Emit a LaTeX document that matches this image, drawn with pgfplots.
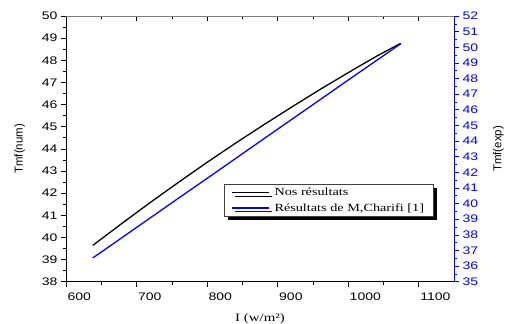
\documentclass[border=0pt]{standalone}
\usepackage{fontspec}
\setmainfont{Liberation Sans}
\newfontfamily\tickfont{Liberation Sans}[FakeStretch=1.28]
\newfontfamily\timesfont{Liberation Serif}[FakeStretch=1.3]
\usepackage{pgfplots}
\pgfplotsset{compat=1.18}
\usetikzlibrary{shadows}

% Tmf computed vs irradiance
\pgfplotstableread{
I     T
638   39.64
680   40.65
720   41.59
760   42.50
800   43.39
840   44.25
880   45.08
920   45.89
960   46.68
1000  47.44
1040  48.18
1074  48.76
}\numdata

% Tmf measured (M. Charifi) vs irradiance
\pgfplotstableread{
I     T
638   36.52
700   38.47
760   40.36
800   41.61
860   43.50
900   44.76
960   46.64
1000   47.90
1040   49.15
1075   50.24
}\expdata

\begin{document}
\begin{tikzpicture}
% fixed page frame around the 388 x 265.7 plot area
\useasboundingbox (-66bp,-42.3bp) rectangle (440bp,281.7bp);
\pgfplotsset{
  common/.style={
    at={(0,0)}, anchor=south west,
    scale only axis, width=388bp, height=265.7bp,
    xmin=600, xmax=1150,
    /pgf/number format/assume math mode=true,
    /pgf/number format/1000 sep={},
    ticklabel style={font=\tickfont\fontsize{11}{13}\selectfont},
    label style={font=\fontsize{11.5}{13}\selectfont},
    major tick length=5bp, minor tick length=3bp,
    every tick/.style={line width=0.6pt},
    xtick={600,700,...,1100}, minor x tick num=1,
  }
}
% left axis and bottom axis
\begin{axis}[common,
  ymin=38, ymax=50,
  axis x line*=bottom, axis y line*=left,
  tick align=outside,
  axis line style={line width=0.8pt},
  ytick={38,39,...,50}, minor y tick num=1,
  xticklabel style={anchor=north west, xshift=-2bp, yshift=-3bp},
  xlabel={\timesfont I (w/m²)},
  ylabel={Tmf(num)},
  xlabel style={yshift=-6bp},
  ylabel style={yshift=10bp},
]
\addplot[black, line width=1.3pt] table[x=I, y=T] {\numdata};
\end{axis}
% top frame line with inner ticks
\begin{axis}[common,
  ymin=38, ymax=50,
  axis x line*=top, axis y line=none,
  tick align=inside,
  xticklabels={},
  axis line style={gray, line width=0.8pt},
]
\end{axis}
% right axis (experimental values)
\begin{axis}[common,
  ymin=35, ymax=52,
  axis x line=none, axis y line*=right,
  tick align=outside,
  y axis line style={blue, line width=0.8pt},
  ytick={35,36,...,52}, minor y tick num=1,
  y tick style={blue},
  yticklabel style={blue},
  ylabel={Tmf(exp)},
  ylabel style={yshift=-8bp},
  legend cell align=left,
  legend image code/.code={\draw[#1] (0bp,0bp) -- (37bp,0bp);},
  legend style={at={(0.407,0.368)}, anchor=north west,
    draw=black!75, fill=white, line width=0.6pt,
    font=\timesfont\fontsize{11}{13}\selectfont,
    inner xsep=7bp, inner ysep=2bp,
    row sep=2bp,
    drop shadow={shadow xshift=3.5bp, shadow yshift=-3.5bp, fill=black, opacity=1}},
]
\addlegendimage{black, line width=1.3pt}
\addlegendentry{\hspace{3bp}Nos résultats}
\addplot[blue, line width=1.3pt] table[x=I, y=T] {\expdata};
\addlegendentry{\hspace{3bp}Résultats de M,Charifi [1]\hspace{5bp}}
\end{axis}
\end{tikzpicture}
\end{document}
